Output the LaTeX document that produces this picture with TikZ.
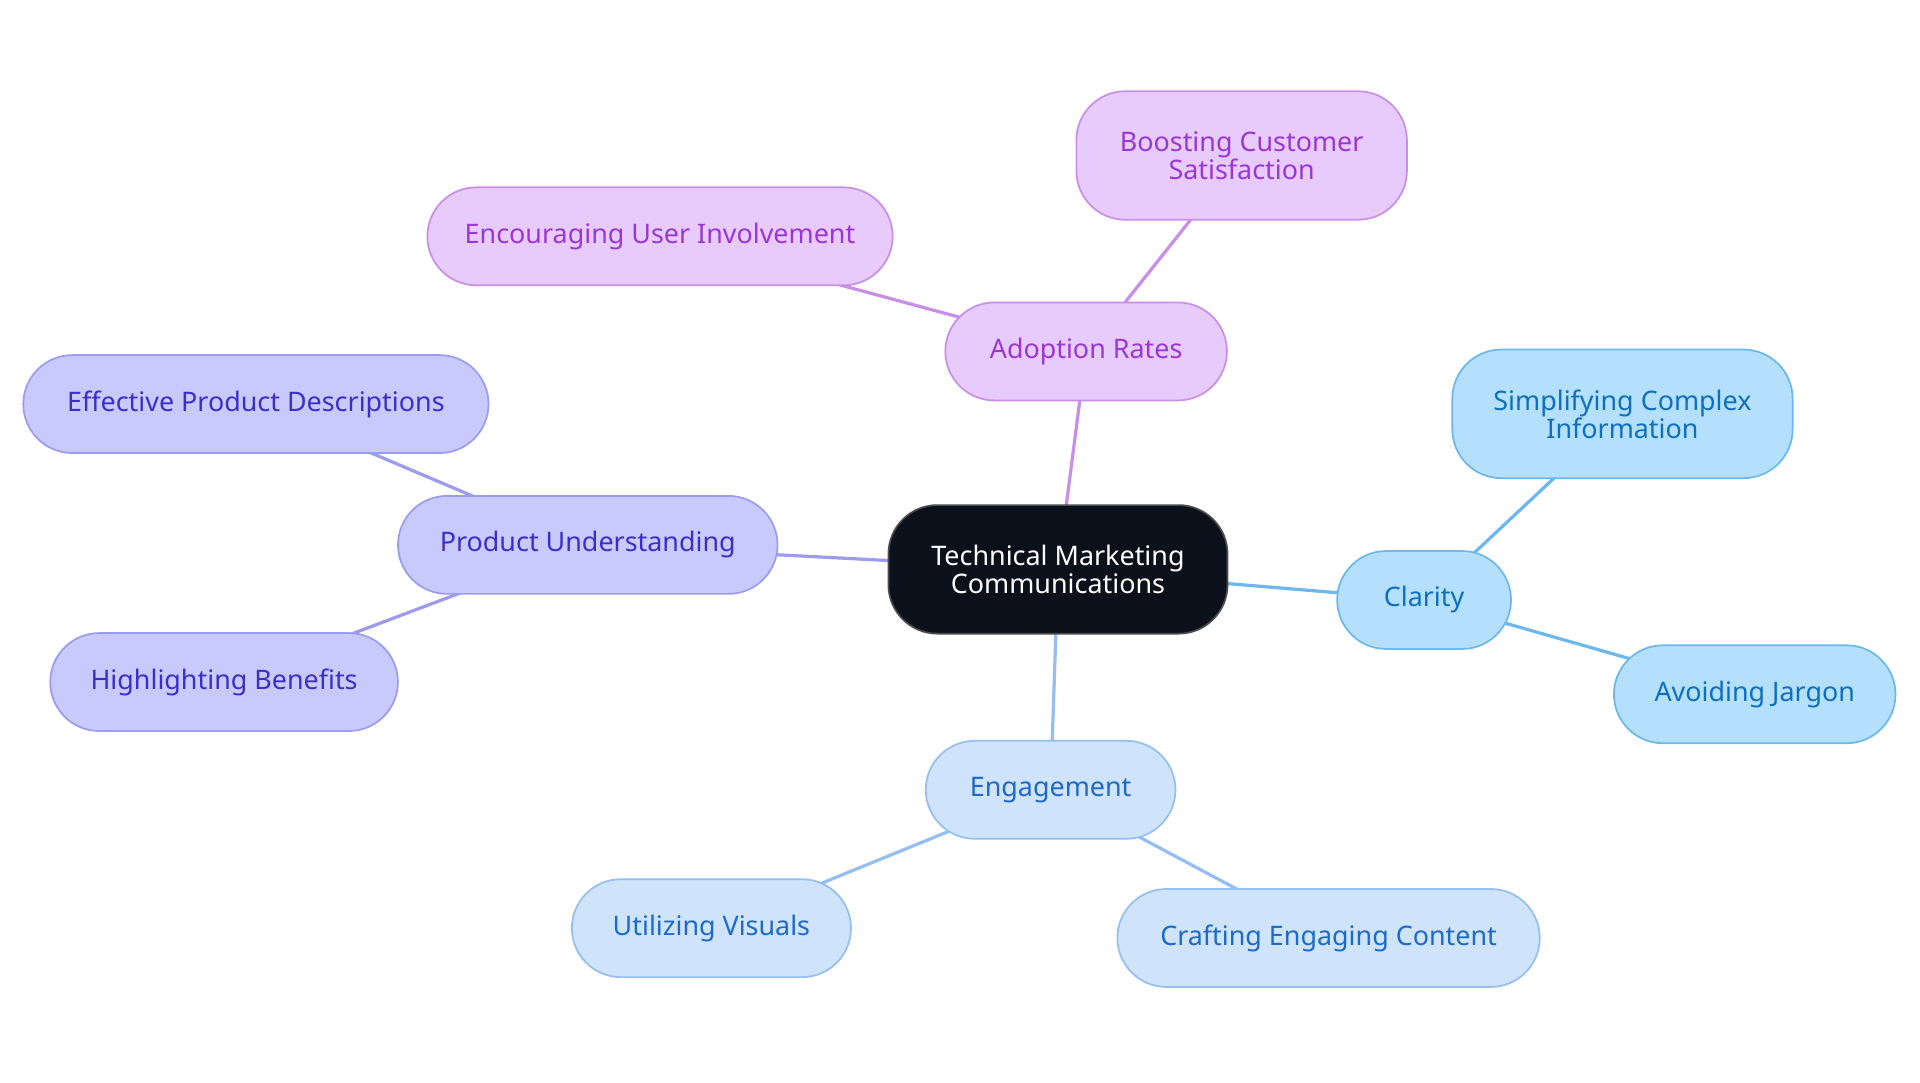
\documentclass[tikz,border=0pt]{standalone}
\usepackage{fontspec}
\setmainfont{Noto Sans}
\usetikzlibrary{positioning}
\definecolor{hubfill}{HTML}{0B111B}
\definecolor{adofill}{HTML}{E8CBFD}
\definecolor{adodraw}{HTML}{C98EE8}
\definecolor{adotext}{HTML}{9A36D6}
\definecolor{profill}{HTML}{C8CAFD}
\definecolor{prodraw}{HTML}{9B9CEE}
\definecolor{protext}{HTML}{3A2FC8}
\definecolor{clafill}{HTML}{B4E0FD}
\definecolor{cladraw}{HTML}{6CB8EC}
\definecolor{clatext}{HTML}{0D6FBE}
\definecolor{engfill}{HTML}{CFE3FB}
\definecolor{engdraw}{HTML}{94BFF0}
\definecolor{engtext}{HTML}{1D6AC8}
\begin{document}
\begin{tikzpicture}[x=0.02cm,y=-0.02cm,
mynode/.style={rectangle, rounded corners=0.8cm, align=center, thick,
  minimum height=1.6cm, inner sep=2pt, font=\fontsize{12.5}{13}\selectfont},
hub/.style={mynode, fill=hubfill, draw=gray!60!black, text=white},
ado/.style={mynode, fill=adofill, draw=adodraw, text=adotext},
pro/.style={mynode, fill=profill, draw=prodraw, text=protext},
cla/.style={mynode, fill=clafill, draw=cladraw, text=clatext},
eng/.style={mynode, fill=engfill, draw=engdraw, text=engtext},
]
\useasboundingbox (0,0) rectangle (1568,884);

\draw[line width=1.5pt,adodraw] (864,465) -- (887,287) -- (1014,127);
\draw[line width=1.5pt,adodraw] (887,287) -- (539,193);
\draw[line width=1.5pt,prodraw] (864,465) -- (480,445) -- (209,330);
\draw[line width=1.5pt,prodraw] (480,445) -- (183,557);
\draw[line width=1.5pt,cladraw] (864,465) -- (1163,490) -- (1325,338);
\draw[line width=1.5pt,cladraw] (1163,490) -- (1433,567);
\draw[line width=1.5pt,engdraw] (864,465) -- (858,645) -- (581,758);
\draw[line width=1.5pt,engdraw] (858,645) -- (1085,766);

\node[hub, minimum width=5.54cm, minimum height=2.1cm] (tmc) at (864,465)
    {Technical Marketing\\Communications};

\node[ado, minimum width=4.6cm] (adopt) at (887,287) {Adoption Rates};
\node[ado, minimum width=5.4cm, minimum height=2.1cm] (boost) at (1014,127)
    {Boosting Customer\\Satisfaction};
\node[ado, minimum width=7.6cm] (encour) at (539,193) {Encouraging User Involvement};

\node[pro, minimum width=6.2cm] (produ) at (480,445) {Product Understanding};
\node[pro, minimum width=7.6cm] (effect) at (209,330) {Effective Product Descriptions};
\node[pro, minimum width=5.68cm] (highl) at (183,557) {Highlighting Benefits};

\node[cla, minimum width=2.84cm] (clar) at (1163,490) {Clarity};
\node[cla, minimum width=5.56cm, minimum height=2.1cm] (simpl) at (1325,338)
    {Simplifying Complex\\Information};
\node[cla, minimum width=4.6cm] (avoid) at (1433,567) {Avoiding Jargon};

\node[eng, minimum width=4.08cm] (engag) at (858,645) {Engagement};
\node[eng, minimum width=4.56cm] (visual) at (581,758) {Utilizing Visuals};
\node[eng, minimum width=6.9cm] (craft) at (1085,766) {Crafting Engaging Content};
\end{tikzpicture}
\end{document}
